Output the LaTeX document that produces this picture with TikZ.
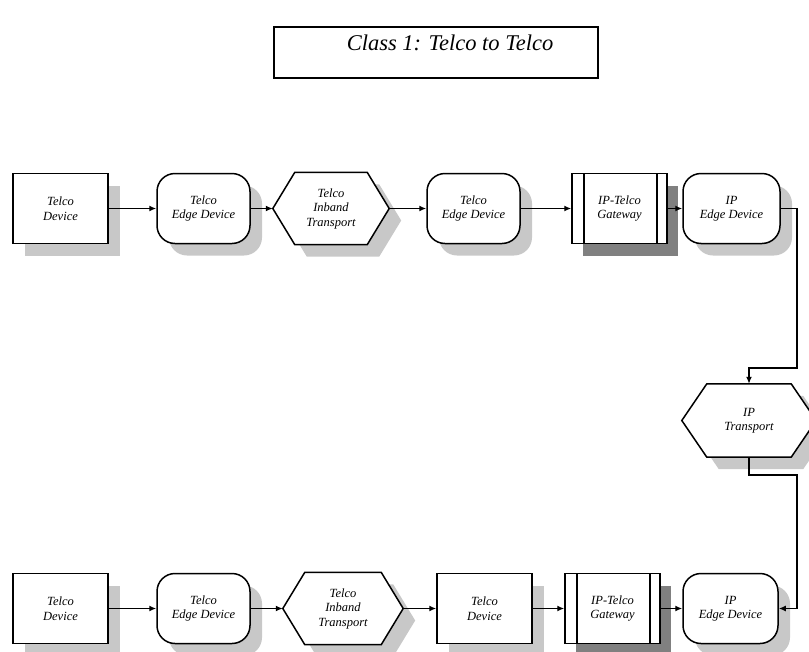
\documentclass[tikz,border=0pt]{standalone}
\usepackage{fontspec}
\setmainfont{Liberation Serif}
\usetikzlibrary{shadows,arrows.meta}
\definecolor{shadowlight}{RGB}{200,200,200}
\definecolor{shadowdark}{RGB}{128,128,128}
\pgfdeclarelayer{back}
\pgfsetlayers{back,main}
% hexagon outline around a rectangular node; #2 = horizontal inset of the top/bottom edges,
% #3/#4 = shift of the whole outline (used for the shadow)
\newcommand{\hexoutline}[4]{%
  ([xshift=#3,yshift=#4]#1.west) --
  ([xshift=#2+#3,yshift=#4]#1.north west) --
  ([xshift=-#2+#3,yshift=#4]#1.north east) --
  ([xshift=#3,yshift=#4]#1.east) --
  ([xshift=-#2+#3,yshift=#4]#1.south east) --
  ([xshift=#2+#3,yshift=#4]#1.south west) -- cycle}
\newcommand{\transportshape}[2]{%
  \begin{pgfonlayer}{back}
    \fill[shadowlight] \hexoutline{#1}{#2}{12pt}{-12pt};
    \filldraw[fill=white, line width=1.5pt, line join=miter] \hexoutline{#1}{#2}{0pt}{0pt};
  \end{pgfonlayer}}
\begin{document}
\begin{tikzpicture}[x=1pt,y=-1pt,
  every node/.style={font=\fontsize{12.5}{14.5}\selectfont\itshape, align=center, inner sep=0pt},
  base/.style={draw, line width=1.5pt, fill=white, minimum height=70pt},
  lightshadow/.style={general shadow={fill=shadowlight, shadow xshift=12pt, shadow yshift=-12pt}},
  device/.style={base, rectangle, lightshadow, minimum width=95pt},
  edgedev/.style={base, rectangle, rounded corners=18pt, lightshadow, minimum width=93pt},
  transport/.style={rectangle, minimum height=72pt},
  gateway/.style={base, rectangle, minimum width=95pt,
    general shadow={fill=shadowdark, shadow xshift=11pt, shadow yshift=-12pt},
    path picture={\draw[line width=1.5pt]
      ([xshift=12pt]path picture bounding box.north west) -- ([xshift=12pt]path picture bounding box.south west)
      ([xshift=-10pt]path picture bounding box.north east) -- ([xshift=-10pt]path picture bounding box.south east);}},
  flow/.style={line width=1.5pt, -{Latex[length=7pt,width=6pt]}}
]
\useasboundingbox (0,0) rectangle (809,651);

% title
\node[draw, line width=1.6pt, minimum width=324pt, text height=23pt, text depth=28pt,
      font=\fontsize{22.5}{27}\selectfont\itshape] (title) at (436,52.5)
      {\hspace*{28pt}Class 1: Telco to Telco};

% upper chain
\node[device]    (td1) at (60.5,208.5)  {Telco\\Device};
\node[edgedev]   (ed1) at (203.5,208.5) {Telco\\Edge Device};
\node[transport, minimum width=116pt] (hx1) at (331,208.5) {Telco\\Inband\\Transport};
\node[edgedev]   (ed2) at (473.5,208.5) {Telco\\Edge Device};
\node[gateway]   (gw1) at (619.5,208.5) {IP-Telco\\Gateway};
\node[edgedev, minimum width=97pt] (ip1) at (731.5,208.5) {IP\\Edge Device};

% IP transport
\node[transport, minimum width=134pt, minimum height=73pt] (ipt) at (749,420.5) {IP\\Transport};

% lower chain
\node[device]    (td2) at (60.5,608.5)  {Telco\\Device};
\node[edgedev]   (ed3) at (203.5,608.5) {Telco\\Edge Device};
\node[transport, minimum width=120pt] (hx2) at (343,608.5) {Telco\\Inband\\Transport};
\node[device]    (td3) at (484.5,608.5) {Telco\\Device};
\node[gateway]   (gw2) at (612.5,608.5) {IP-Telco\\Gateway};
\node[edgedev, minimum width=95pt] (ip2) at (730.5,608.5) {IP\\Edge Device};

% hexagonal transport outlines
\transportshape{hx1}{22pt}
\transportshape{hx2}{22pt}
\transportshape{ipt}{25pt}

% routing points on the right
\coordinate (c1) at (797,368);
\coordinate (c2) at (797,475);

% connectors
\draw[flow] (td1.east) -- (ed1.west);
\draw[flow] (ed1.east) -- (hx1.west);
\draw[flow] (hx1.east) -- (ed2.west);
\draw[flow] (ed2.east) -- (gw1.west);
\draw[flow] (gw1.east) -- (ip1.west);
\draw[flow] (ip1.east) -| (c1) -| (ipt.north);
\draw[flow] (ipt.south) |- (c2) |- (ip2.east);

\draw[flow] (td2.east) -- (ed3.west);
\draw[flow] (ed3.east) -- (hx2.west);
\draw[flow] (hx2.east) -- (td3.west);
\draw[flow] (td3.east) -- (gw2.west);
\draw[flow] (gw2.east) -- (ip2.west);
\end{tikzpicture}
\end{document}
